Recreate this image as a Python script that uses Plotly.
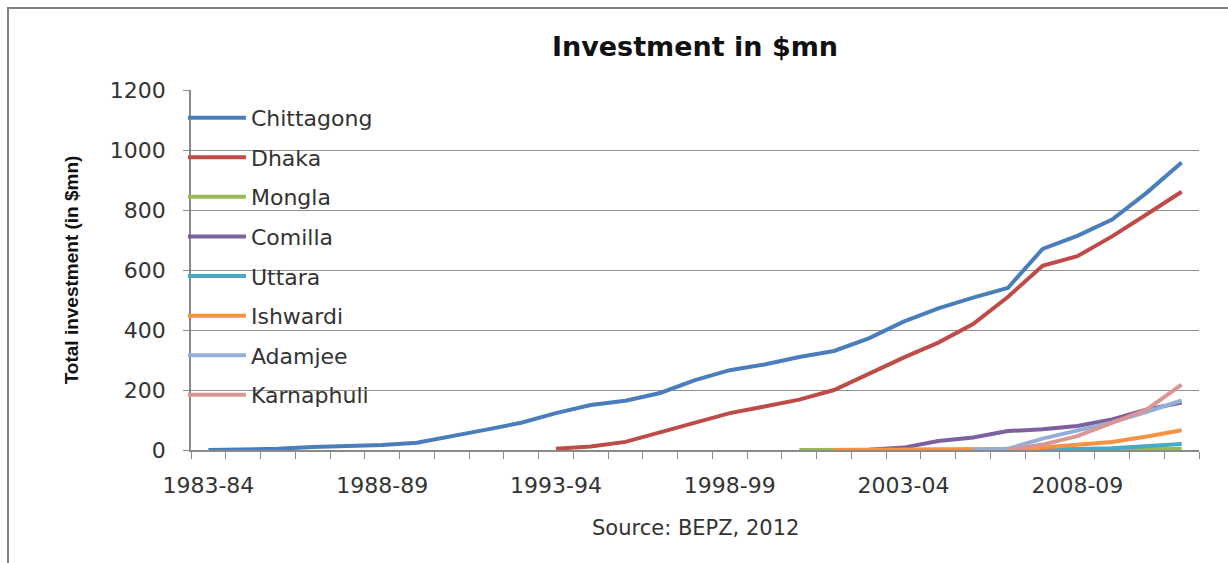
import plotly.graph_objects as go

years = ["1983-84", "1984-85", "1985-86", "1986-87", "1987-88", "1988-89", "1989-90",
         "1990-91", "1991-92", "1992-93", "1993-94", "1994-95", "1995-96", "1996-97",
         "1997-98", "1998-99", "1999-00", "2000-01", "2001-02", "2002-03", "2003-04",
         "2004-05", "2005-06", "2006-07", "2007-08", "2008-09", "2009-10", "2010-11",
         "2011-12"]
N = None
chittagong = [0, 1, 4, 10, 13, 17, 24, 45, 68, 91, 123, 150, 164, 190, 233, 266, 285,
              310, 330, 372, 428, 472, 508, 540, 670, 714, 768, 858, 958]
dhaka = [N]*10 + [4, 12, 27, 60, 90, 123, 145, 168, 200, 255, 308, 358, 420, 510, 614,
                  646, 712, 786, 861]
mongla = [N]*17 + [0, 0, 0, 0, 0, 0, 0, 1, 1, 2, 2, 3]
comilla = [N]*18 + [0, 1, 8, 30, 42, 63, 69, 80, 102, 135, 158]
uttara = [N]*22 + [0, 0, 1, 3, 6, 13, 20]
ishwardi = [N]*18 + [0, 0, 0, 1, 2, 3, 8, 17, 27, 45, 66]
adamjee = [N]*22 + [0, 4, 38, 64, 92, 127, 165]
karnaphuli = [N]*23 + [0, 18, 46, 92, 135, 218]

series = [
    ("Chittagong", chittagong, "#4A7EBB"),
    ("Dhaka", dhaka, "#BE4B48"),
    ("Mongla", mongla, "#98B954"),
    ("Comilla", comilla, "#7D60A0"),
    ("Uttara", uttara, "#46AAC5"),
    ("Ishwardi", ishwardi, "#F59342"),
    ("Adamjee", adamjee, "#95AED6"),
    ("Karnaphuli", karnaphuli, "#D99694"),
]
label_years = years[::5]

xs = list(range(len(years)))
fig = go.Figure()
for name, vals, col in series:
    fig.add_trace(go.Scatter(x=xs, y=vals, name=name, mode="lines",
                             line=dict(color=col, width=4),
                             legendgroup=name, connectgaps=False))

font_main = "DejaVu Sans, Verdana, sans-serif"
fig.update_layout(
    width=1228, height=563,
    margin=dict(l=191, r=29, t=90, b=113),
    paper_bgcolor="white", plot_bgcolor="white",
    title=dict(text="<b>Investment in $mn</b>", x=(191 + 1199) / 2 / 1228, xanchor="center",
               y=1 - 47 / 563, yanchor="middle",
               font=dict(family=font_main, size=27, color="#111")),
    showlegend=True,
    legend=dict(x=-0.008, y=0.981, xanchor="left", yanchor="top",
                bgcolor="rgba(0,0,0,0)", itemwidth=58, tracegroupgap=8,
                font=dict(family=font_main, size=22, color="#333")),
    xaxis=dict(range=[-0.5, len(years) - 0.5], showgrid=False, zeroline=False,
               showline=True, linecolor="#8a8a8a", linewidth=1.5,
               tickmode="array", tickvals=xs[::5], ticktext=label_years,
               ticks="outside", ticklen=0, ticklabelstandoff=15,
               minor=dict(tickmode="array", tickvals=[i - 0.5 for i in range(len(years) + 1)],
                          ticks="outside", ticklen=7, tickcolor="#8a8a8a", showgrid=False),
               tickfont=dict(family=font_main, size=22, color="#333")),
    yaxis=dict(range=[0, 1200], dtick=200, showgrid=True, gridcolor="#8f8f8f", gridwidth=1.2,
               zeroline=False, showline=True, linecolor="#8a8a8a", linewidth=1.5,
               ticks="outside", ticklen=6, tickcolor="#8a8a8a", ticklabelstandoff=13,
               tickfont=dict(family=font_main, size=22, color="#333"),
               title=dict(text="<b>Total investment (in $mn)</b>", standoff=26,
                          font=dict(family="Liberation Sans Narrow, Arial Narrow, sans-serif",
                                    size=19, color="#111"))),
    annotations=[dict(text="Source: BEPZ, 2012", xref="paper", yref="paper",
                      x=0.5, y=-78 / 360, xanchor="center", yanchor="middle",
                      showarrow=False, font=dict(family=font_main, size=21, color="#333"))],
    shapes=[dict(type="rect", xref="paper", yref="paper",
                 x0=(8 - 191) / 1008, x1=1.2, y0=-0.5, y1=(450 - 8) / 360,
                 line=dict(color="#7f7f7f", width=2), fillcolor="rgba(0,0,0,0)", layer="below")],
)
fig.write_html("out.html")
